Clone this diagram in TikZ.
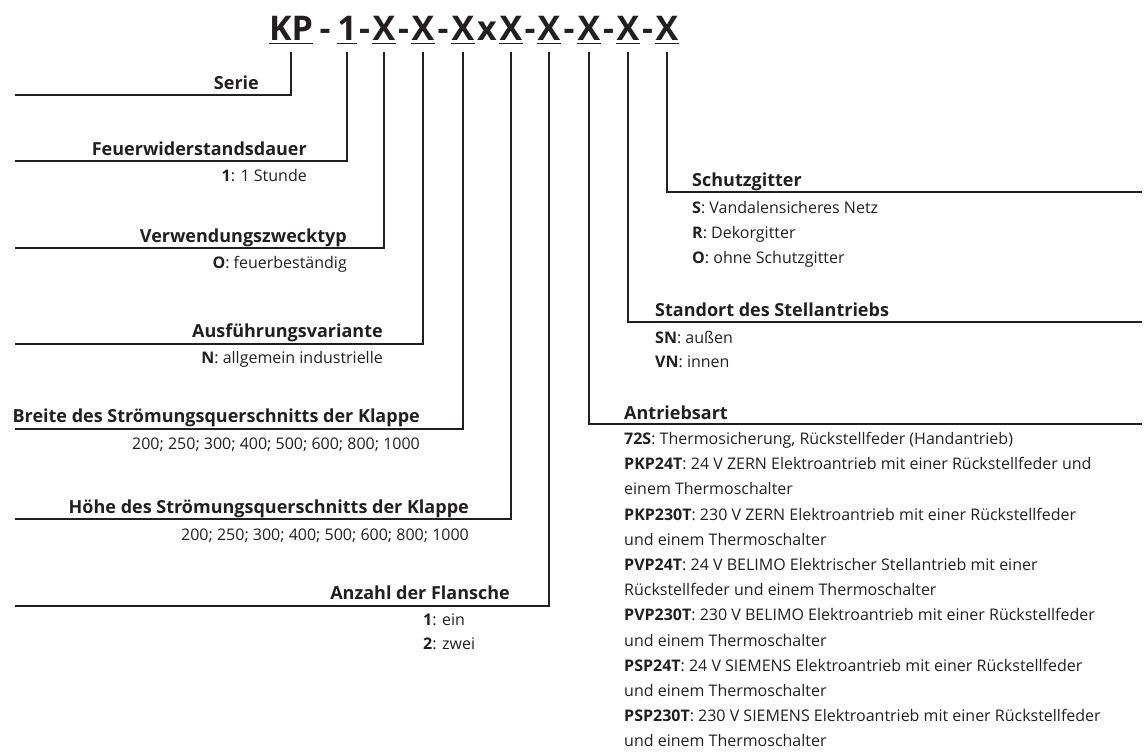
\documentclass[tikz,border=0pt]{standalone}
\usepackage{fontspec}
\setmainfont{Open Sans}
\usetikzlibrary{positioning, calc}
\definecolor{inkGrey}{RGB}{35, 31, 32}

\tikzset{
  segtxt/.style={inner sep=0pt, anchor=base, text=inkGrey, font=\fontsize{34}{34}\selectfont\bfseries},
  headtxt/.style={inner sep=0pt, text=inkGrey, font=\fontsize{18}{20}\selectfont\bfseries},
  itemtxt/.style={inner sep=0pt, text=inkGrey, font=\fontsize{16}{18}\selectfont},
  leader/.style={draw=inkGrey, line width=1.4pt},
  uline/.style={draw=inkGrey, line width=1.8pt},
}

\begin{document}
\begin{tikzpicture}[x=1pt, y=-1pt]
  \useasboundingbox (0,0) rectangle (1148,753);

  % type code with underlined positions
  \foreach \x/\t [count=\i] in {291/KP, 347/1, 384/X, 423/X, 463/X, 511/X, 549/X, 589/X, 628/X, 667/X}
    \node[segtxt] (s\i) at (\x,40) {\t};
  \foreach \i/\c in {1/-, 2/-, 3/-, 4/-, 5/x, 6/-, 7/-, 8/-, 9/-} {
    \pgfmathtruncatemacro\j{\i+1}
    \node[segtxt] (d\i) at ($(s\i.base east)!0.5!(s\j.base west)$) {\c};
  }
  \foreach \i in {1,...,10}
    \draw[uline] ([yshift=-3.5pt]s\i.base west) -- ([yshift=-3.5pt]s\i.base east);

  % line ends
  \coordinate (l1) at (15,95);
  \coordinate (l2) at (15,161);
  \coordinate (l3) at (15,248);
  \coordinate (l4) at (15,344);
  \coordinate (l5) at (15,429);
  \coordinate (l6) at (15,519);
  \coordinate (l7) at (15,606);
  \coordinate (r8) at (1142,424);
  \coordinate (r9) at (1142,322);
  \coordinate (r10) at (1142,192);

  \foreach \i in {1,...,7}
    \draw[leader] (s\i |- 0,52) |- (l\i);
  \foreach \i in {8,9,10}
    \draw[leader] (s\i |- 0,52) |- (r\i);

  % left side
  \node[headtxt, anchor=base east] (serie) at (259,89) {Serie};

  \node[headtxt, anchor=base east] (dauer) at (307,155) {Feuerwiderstandsdauer};
  \node[itemtxt, anchor=base east] (dauer1) at ([yshift=-26pt]dauer.base east) {\textbf{1}: 1 Stunde};

  \node[headtxt, anchor=base east] (zweck) at (347,242) {Verwendungszwecktyp};
  \node[itemtxt, anchor=base east] (zweck1) at ([yshift=-26pt]zweck.base east) {\textbf{O}: feuerbeständig};

  \node[headtxt, anchor=base east] (ausf) at (383,337) {Ausführungsvariante};
  \node[itemtxt, anchor=base east] (ausf1) at ([yshift=-26pt]ausf.base east) {\textbf{N}: allgemein industrielle};

  \node[headtxt, anchor=base east] (breite) at (420,422) {Breite des Strömungsquerschnitts der Klappe};
  \node[itemtxt, anchor=base east] (breite1) at ([yshift=-27pt]breite.base east) {200; 250; 300; 400; 500; 600; 800; 1000};

  \node[headtxt, anchor=base east] (hoehe) at (469,513) {Höhe des Strömungsquerschnitts der Klappe};
  \node[itemtxt, anchor=base east] (hoehe1) at ([yshift=-27pt]hoehe.base east) {200; 250; 300; 400; 500; 600; 800; 1000};

  \node[headtxt, anchor=base east] (flansch) at (510,599) {Anzahl der Flansche};
  \node[itemtxt, anchor=base west] (flansch1) at (423,625) {\textbf{1}: ein};
  \node[itemtxt, anchor=base west] (flansch2) at ([yshift=-24pt]flansch1.base west) {\textbf{2}: zwei};

  % right side
  \node[headtxt, anchor=base west] (gitter) at (692,186) {Schutzgitter};
  \foreach \t [count=\k] in {{\textbf{S}: Vandalensicheres Netz}, {\textbf{R}: Dekorgitter}, {\textbf{O}: ohne Schutzgitter}}
    \node[itemtxt, anchor=base west] (gitter\k) at ([yshift=-2pt-25*\k pt]gitter.base west) {\t};

  \node[headtxt, anchor=base west] (stand) at (655,316) {Standort des Stellantriebs};
  \node[itemtxt, anchor=base west] (stand1) at ([yshift=-27pt]stand.base west) {\textbf{SN}: außen};
  \node[itemtxt, anchor=base west] (stand2) at ([yshift=-51pt]stand.base west) {\textbf{VN}: innen};

  \node[headtxt, anchor=base west] (antrieb) at (624,419) {Antriebsart};
  \foreach \t [count=\k] in {
      {\textbf{72S}: Thermosicherung, Rückstellfeder (Handantrieb)},
      {\textbf{PKP24T}: 24 V ZERN Elektroantrieb mit einer Rückstellfeder und},
      {einem Thermoschalter},
      {\textbf{PKP230T}: 230 V ZERN Elektroantrieb mit einer Rückstellfeder},
      {und einem Thermoschalter},
      {\textbf{PVP24T}: 24 V BELIMO Elektrischer Stellantrieb mit einer},
      {Rückstellfeder und einem Thermoschalter},
      {\textbf{PVP230T}: 230 V BELIMO Elektroantrieb mit einer Rückstellfeder},
      {und einem Thermoschalter},
      {\textbf{PSP24T}: 24 V SIEMENS Elektroantrieb mit einer Rückstellfeder},
      {und einem Thermoschalter},
      {\textbf{PSP230T}: 230 V SIEMENS Elektroantrieb mit einer Rückstellfeder},
      {und einem Thermoschalter}}
    \node[itemtxt, anchor=base west] (antrieb\k) at ([yshift=-0.2pt-25.2*\k pt]antrieb.base west) {\t};
\end{tikzpicture}
\end{document}
